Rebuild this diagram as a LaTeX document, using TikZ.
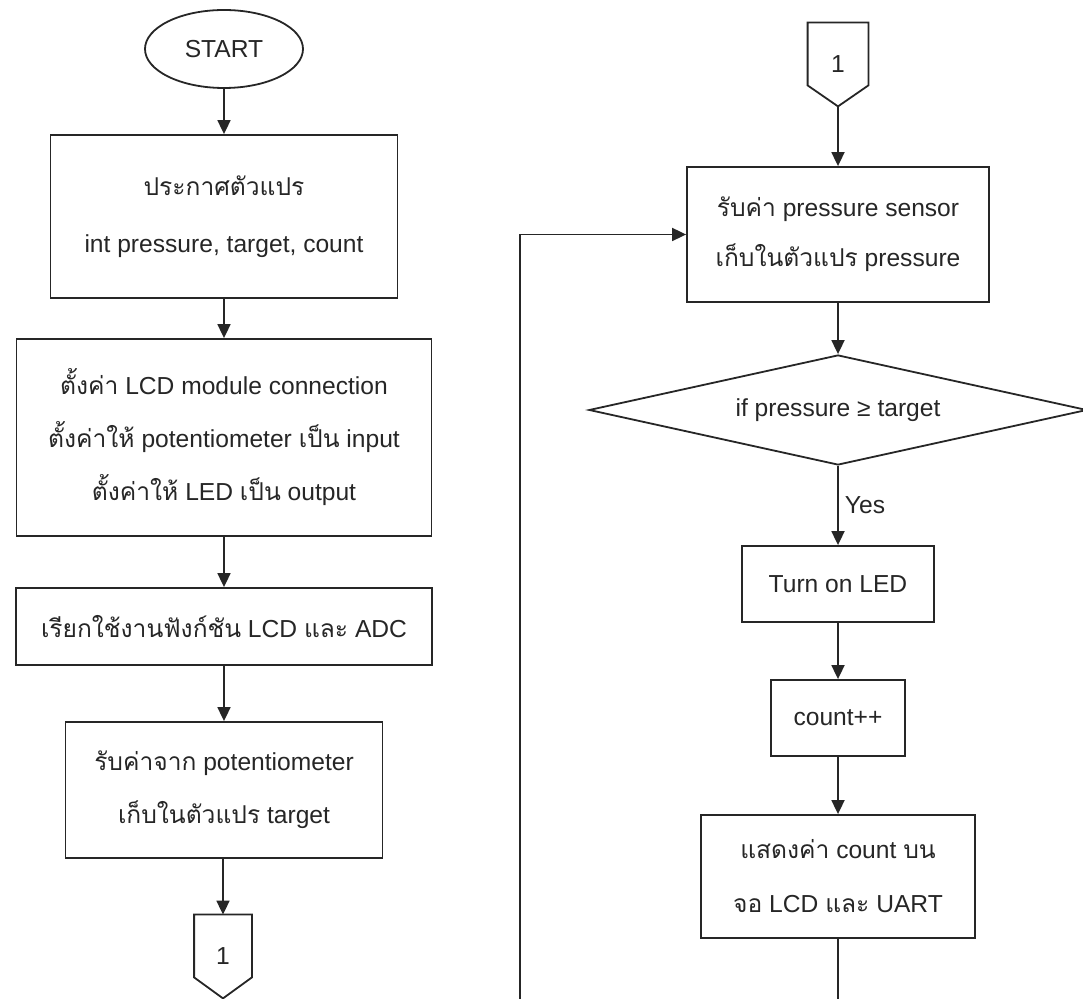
\documentclass[tikz,border=0pt]{standalone}
\usepackage{fontspec}
\setmainfont{Liberation Sans}
\newfontfamily\thaifont[Script=Thai]{Loma}
\newcommand{\thtext}[1]{{\thaifont #1}}
\usetikzlibrary{shapes.geometric,arrows.meta,calc}

\tikzset{
  base/.style={font=\fontsize{12.3}{27}\selectfont, text=black!85, inner sep=0pt},
  stepbox/.style={base, draw=black!85, line width=0.9pt, align=center},
  startnode/.style={base, ellipse, draw=black!85, line width=0.9pt},
  decision/.style={base, diamond, draw=black!85, line width=0.9pt, aspect=4.5},
  offpage/.style={base, minimum width=28.5pt, minimum height=41.5pt},
  flow/.style={draw=black!85, line width=0.9pt, -{Triangle[length=7pt,width=6.5pt]}},
  plain/.style={draw=black!85, line width=0.9pt},
}

\begin{document}
\begin{tikzpicture}[x=0.5pt, y=-0.5pt]
\useasboundingbox (0,0) rectangle (1083,999);

% ---- left column ----
\node[startnode, minimum width=79pt, minimum height=39pt] (start) at (224,49) {START};

\node[stepbox, minimum width=173.5pt, minimum height=81.5pt,
      font=\fontsize{12.3}{28.5}\selectfont] (b1) at (224,216.5)
  {\thtext{ประกาศตัวแปร}\\int pressure, target, count};

\node[stepbox, minimum width=207.5pt, minimum height=98.5pt,
      font=\fontsize{12.3}{26.5}\selectfont] (b2) at (224,437.5)
  {\thtext{ตั้งค่า} LCD module connection\\
   \thtext{ตั้งค่าให้} potentiometer \thtext{เป็น} input\\
   \thtext{ตั้งค่าให้} LED \thtext{เป็น} output};

\node[stepbox, minimum width=208pt, minimum height=38.5pt] (b3) at (224,626.5)
  {\thtext{เรียกใช้งานฟังก์ชัน} LCD \thtext{และ} ADC};

\node[stepbox, minimum width=158.5pt, minimum height=68pt,
      font=\fontsize{12.3}{26.5}\selectfont] (b4) at (224,790)
  {\thtext{รับค่าจาก} potentiometer\\\thtext{เก็บในตัวแปร} target};

\node[offpage] (c1) at (223,956.5) {1};
\draw[plain] (c1.north west) -- (c1.north east) -- ($(c1.south east)+(0,-21)$)
  -- (c1.south) -- ($(c1.south west)+(0,-21)$) -- cycle;

\draw[flow] (start) -- (b1);
\draw[flow] (b1) -- (b2);
\draw[flow] (b2) -- (b3);
\draw[flow] (b3) -- (b4);
\draw[flow] (b4.south -| c1.north) -- (c1);

% ---- right column ----
\node[offpage, minimum width=30pt] (c2) at (838,64.5) {1};
\draw[plain] (c2.north west) -- (c2.north east) -- ($(c2.south east)+(0,-21)$)
  -- (c2.south) -- ($(c2.south west)+(0,-21)$) -- cycle;

\node[stepbox, minimum width=151pt, minimum height=67.5pt,
      font=\fontsize{12.3}{25}\selectfont] (b5) at (838,234.5)
  {\thtext{รับค่า} pressure sensor\\\thtext{เก็บในตัวแปร} pressure};

\node[decision, minimum width=249pt, minimum height=55pt] (dec) at (838,410)
  {if pressure ≥ target};

\node[stepbox, minimum width=96pt, minimum height=38pt] (b6) at (838,584) {Turn on LED};
\node[stepbox, minimum width=67pt, minimum height=38pt] (b7) at (838,718) {count++};
\node[stepbox, minimum width=137pt, minimum height=61.5pt,
      font=\fontsize{12.3}{27}\selectfont] (b8) at (838,876.5)
  {\thtext{แสดงค่า} count \thtext{บน}\\\thtext{จอ} LCD \thtext{และ} UART};

\coordinate (rb) at (838,999);
\coordinate (lb) at (520,999);

\draw[flow] (c2.south) -- (b5);
\draw[flow] (b5) -- (dec);
\draw[flow] (dec) -- node[base, anchor=west, xshift=3pt] (yes) {Yes} (b6);
\draw[flow] (b6) -- (b7);
\draw[flow] (b7) -- (b8);
\draw[plain] (b8) -- (rb);
\draw[flow] (lb) |- (b5.west);
\end{tikzpicture}
\end{document}
